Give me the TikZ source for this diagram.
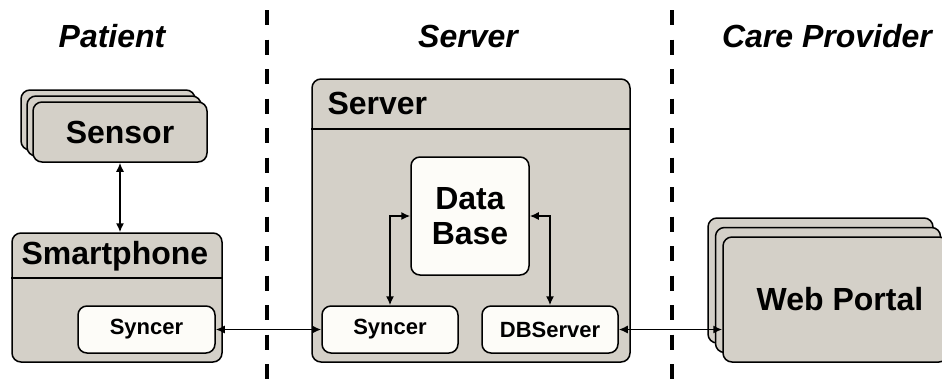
\documentclass[tikz,border=0pt]{standalone}
\usepackage{fontspec}
\setmainfont{Liberation Sans}
\usetikzlibrary{arrows.meta,shadows}

\definecolor{boxgray}{RGB}{212,208,200}
\definecolor{boxwhite}{RGB}{253,252,248}

\begin{document}
\begin{tikzpicture}[
        x=1pt, y=-1pt,
        bigText/.style={font=\fontsize{32}{35}\selectfont\bfseries},
        smallText/.style={font=\fontsize{22}{25}\selectfont\bfseries},
        headText/.style={font=\fontsize{32}{35}\selectfont\bfseries\itshape},
        grayBox/.style={rectangle, draw, fill=boxgray, line width=1.5pt, rounded corners=9pt, inner sep=0pt},
        whiteBox/.style={rectangle, draw, fill=boxwhite, line width=1.5pt, rounded corners=9pt, inner sep=0pt, smallText},
        stackBox/.style={grayBox, double copy shadow={shadow xshift=-6pt, shadow yshift=6pt}},
        link/.style={line width=1.5pt, {Latex[length=9pt,width=8pt]}-{Latex[length=9pt,width=8pt]}}
    ]
        \useasboundingbox (0,0) rectangle (942,381);

        % Column headings
        \node[headText] (hpatient) at (112,36) {Patient};
        \node[headText] (hserver) at (468,36) {Server};
        \node[headText] (hcare) at (827,36) {Care Provider};

        % Separators
        \draw[line width=4.5pt, dash pattern=on 15pt off 14.5pt] (267,10) -- (267,381);
        \draw[line width=4.5pt, dash pattern=on 15pt off 14.5pt] (672,10) -- (672,381);

        % Patient side
        \node[stackBox, bigText, minimum width=174pt, minimum height=60pt] (sensor) at (120,132) {Sensor};
        \node[grayBox, minimum width=210pt, minimum height=129pt] (phone) at (117,297.5) {};
        \draw[line width=1.5pt] (phone.west |- 0,278) -- (phone.east |- 0,278);
        \node[bigText, anchor=west] (phonetitle) at (18,256) {Smartphone};
        \node[whiteBox, minimum width=137pt, minimum height=47pt] (phonesync) at (146.5,329.5) {Syncer};

        % Server side
        \node[grayBox, minimum width=318pt, minimum height=283pt] (server) at (471,220.5) {};
        \draw[line width=1.5pt] (server.west |- 0,129) -- (server.east |- 0,129);
        \node[bigText, anchor=west] (servertitle) at (324,103) {Server};
        \node[whiteBox, bigText, align=center, minimum width=118pt, minimum height=118pt] (db) at (470,216) {Data\\Base};
        \node[whiteBox, minimum width=136pt, minimum height=47pt] (srvsync) at (390,329.5) {Syncer};
        \node[whiteBox, minimum width=136pt, minimum height=47pt] (dbserver) at (550,329.5) {DBServer};

        % Care provider side
        \node[grayBox, bigText, minimum width=225pt, minimum height=125pt,
            double copy shadow={shadow xshift=-7.5pt, shadow yshift=9.5pt}] (portal) at (835.5,299.5) {\hspace*{9pt}Web Portal};

        % Edges
        \draw[link] (sensor.south) -- (sensor.south |- phone.north);
        \draw[link] (phonesync.east) -- (srvsync.west);
        \draw[link] (srvsync.north) |- (db.west);
        \draw[link] (db.east) -| (dbserver.north);
        \draw[link] (dbserver.east) -- (dbserver.east -| portal.west);
    \end{tikzpicture}
\end{document}
